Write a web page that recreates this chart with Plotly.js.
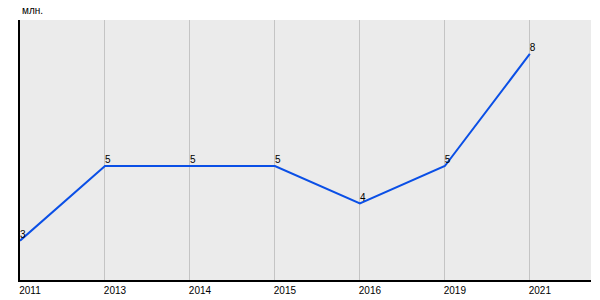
<!DOCTYPE html>
<html>
<head>
<meta charset="utf-8">
<script src="https://cdn.plot.ly/plotly-3.0.1.min.js"></script>
<style>html,body{margin:0;padding:0;background:#fff;}#chart{width:600px;height:300px;}</style>
</head>
<body>
<div id="chart"></div>
<script>
const years = ["2011", "2013", "2014", "2015", "2016", "2019", "2021"];
const values = [3, 5, 5, 5, 4, 5, 8];
const valueLabels = ["3", "5", "5", "5", "4", "5", "8"];
const unitLabel = "млн.";

const trace = {
  x: years,
  y: values,
  type: "scatter",
  mode: "lines+text",
  text: valueLabels,
  textposition: "top right",
  textfont: {family: "Liberation Sans, Arial, sans-serif", size: 10, color: "#000"},
  line: {color: "#0a4fe6", width: 2},
  cliponaxis: false,
  hoverinfo: "none"
};

const layout = {
  width: 600,
  height: 300,
  margin: {l: 20, r: 9, t: 20, b: 20, pad: 0},
  paper_bgcolor: "#ffffff",
  plot_bgcolor: "#ebebeb",
  showlegend: false,
  font: {family: "Liberation Sans, Arial, sans-serif", size: 10, color: "#000"},
  xaxis: {
    type: "category",
    range: [0, 6.72],
    showgrid: true,
    gridcolor: "#c4c4c4",
    gridwidth: 1,
    showline: true,
    linecolor: "#000",
    linewidth: 2,
    zeroline: false,
    ticks: "",
    ticklabelshift: 10,
    ticklabelstandoff: 0,
    tickfont: {size: 10, color: "#000"},
    fixedrange: true
  },
  yaxis: {
    range: [1.946, 8.91],
    showgrid: false,
    showline: true,
    linecolor: "#000",
    linewidth: 2,
    zeroline: false,
    showticklabels: false,
    ticks: "",
    fixedrange: true
  },
  annotations: [{
    text: unitLabel,
    xref: "paper", yref: "paper",
    x: 0, y: 1,
    xanchor: "left", yanchor: "bottom",
    yshift: 2,
    showarrow: false,
    font: {size: 10, color: "#000"}
  }]
};

Plotly.newPlot("chart", [trace], layout, {staticPlot: true, displayModeBar: false});
</script>
</body>
</html>
